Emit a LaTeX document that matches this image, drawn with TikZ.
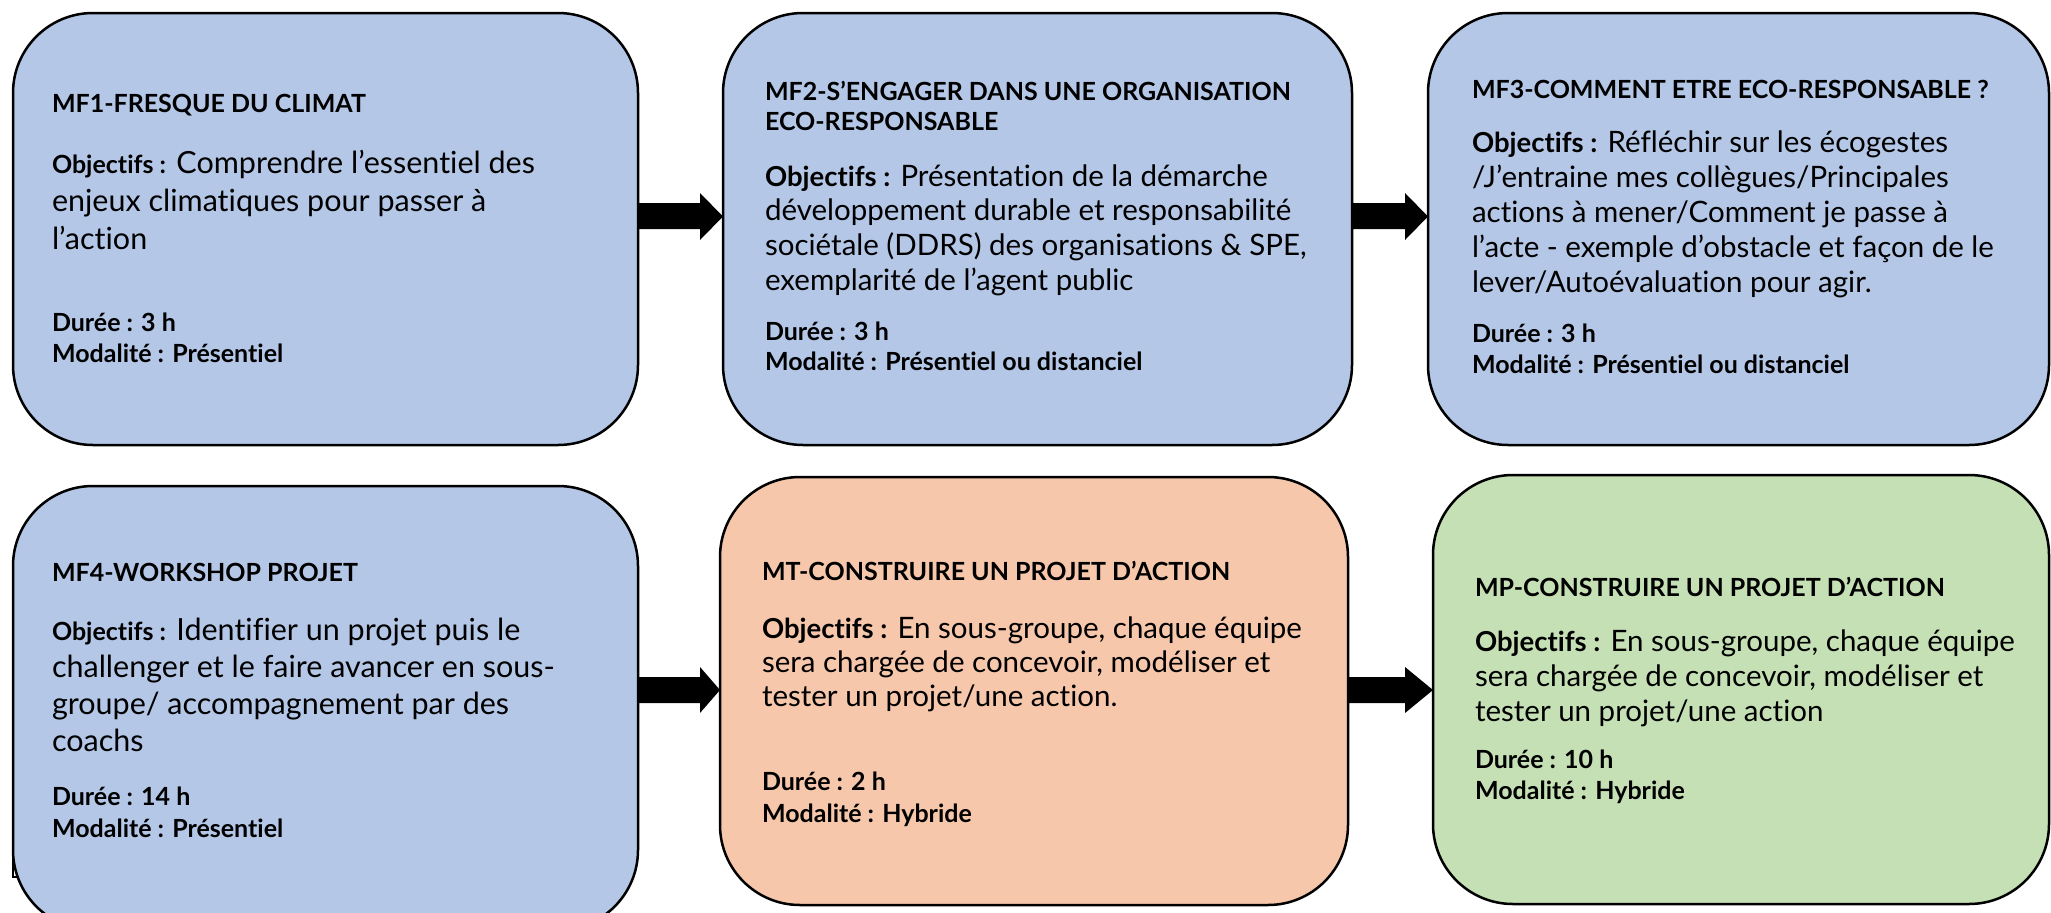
\documentclass[tikz,border=0pt]{standalone}
\usepackage{fontspec}
\setmainfont{Lato}[Ligatures={NoCommon}]
\definecolor{boxblue}{HTML}{B4C7E7}
\definecolor{boxorange}{HTML}{F6C7AB}
\definecolor{boxgreen}{HTML}{C5E0B4}
\newcommand\fTitle{\fontsize{25}{30}\selectfont\bfseries}
\newcommand\fBody{\fontsize{29.5}{35}\selectfont}
\newcommand\fBodyL{\fontsize{30.5}{37}\selectfont}
\newcommand\fLabel{\fontsize{25}{30}\selectfont\bfseries}
\newcommand\fObj{\fontsize{27.5}{33}\selectfont\bfseries}
\newcommand\tline[4]{\node[txt] (#1) at (#2,#3) {#4};}
\begin{document}
\begin{tikzpicture}[x=1pt,y=-1pt,
  card/.style={draw=black, line width=2.5pt, rounded corners=80pt, anchor=north west, inner sep=0pt, outer sep=0pt},
  txt/.style={anchor=base west, inner sep=0pt, outer sep=0pt, text=black},
  blockarrow/.style={fill=black},
  remnant/.style={draw=black, line width=1.5pt}]
\useasboundingbox (0,0) rectangle (2051,913);
% cards
\node[card, fill=boxblue, minimum width=625pt, minimum height=432pt] (b1) at (13,13) {};
\node[card, fill=boxblue, minimum width=629pt, minimum height=432pt] (b2) at (723,13) {};
\node[card, fill=boxblue, minimum width=621pt, minimum height=432pt] (b3) at (1428,13) {};
\node[card, fill=boxblue, minimum width=625pt, minimum height=444pt] (b4) at (13,486) {};
\node[card, fill=boxorange, minimum width=628pt, minimum height=428pt] (b5) at (720,477) {};
\node[card, fill=boxgreen, minimum width=616pt, minimum height=429pt] (b6) at (1433,475) {};
% small remnant mark at lower left of b4
\draw[remnant] (b4.west |- 0,845) -- (13,877) -- (19,877);
% arrows
\fill[blockarrow] (b1.east |- 0,203) -- (700,203) -- (700,193) -- (b2.west |- 0,216.5) -- (700,240) -- (700,229) -- (b1.east |- 0,229) -- cycle;
\fill[blockarrow] (b2.east |- 0,203) -- (1405,203) -- (1405,193) -- (b3.west |- 0,216.5) -- (1405,240) -- (1405,229) -- (b2.east |- 0,229) -- cycle;
\fill[blockarrow] (b4.east |- 0,677) -- (700,677) -- (700,667) -- (b5.west |- 0,690) -- (700,713) -- (700,703) -- (b4.east |- 0,703) -- cycle;
\fill[blockarrow] (b5.east |- 0,677) -- (1405,677) -- (1405,667) -- (b6.west |- 0,690) -- (1405,713) -- (1405,703) -- (b5.east |- 0,703) -- cycle;
% box 1
\tline{t1a}{52}{112}{\fTitle MF1-FRESQUE DU CLIMAT}
\tline{t1b}{52}{173}{\fBodyL{\fLabel Objectifs :} Comprendre l’essentiel des}
\tline{t1c}{52}{211}{\fBodyL enjeux climatiques pour passer à}
\tline{t1d}{52}{249}{\fBodyL l’action}
\tline{t1e}{52}{331}{\fLabel Durée : 3 h}
\tline{t1f}{52}{362}{\fLabel Modalité : Présentiel}
% box 2
\tline{t2a}{765}{100}{\fTitle MF2-S’ENGAGER DANS UNE ORGANISATION}
\tline{t2b}{765}{130}{\fTitle ECO-RESPONSABLE}
\tline{t2c}{765}{186}{\fBody{\fObj Objectifs :} Présentation de la démarche}
\tline{t2d}{765}{220}{\fBody développement durable et responsabilité}
\tline{t2e}{765}{255}{\fBody sociétale (DDRS) des organisations \& SPE,}
\tline{t2f}{765}{290}{\fBody exemplarité de l’agent public}
\tline{t2g}{765}{340}{\fLabel Durée : 3 h}
\tline{t2h}{765}{370}{\fLabel Modalité : Présentiel ou distanciel}
% box 3
\tline{t3a}{1472}{98}{\fTitle MF3-COMMENT ETRE ECO-RESPONSABLE ?}
\tline{t3b}{1472}{152}{\fBody{\fObj Objectifs :} Réfléchir sur les écogestes}
\tline{t3c}{1472}{187}{\fBody /J’entraine mes collègues/Principales}
\tline{t3d}{1472}{222}{\fBody actions à mener/Comment je passe à}
\tline{t3e}{1472}{257}{\fBody l’acte - exemple d’obstacle et façon de le}
\tline{t3f}{1472}{292}{\fBody lever/Autoévaluation pour agir.}
\tline{t3g}{1472}{342}{\fLabel Durée : 3 h}
\tline{t3h}{1472}{373}{\fLabel Modalité : Présentiel ou distanciel}
% box 4
\tline{t4a}{52}{581}{\fTitle MF4-WORKSHOP PROJET}
\tline{t4b}{52}{640}{\fBodyL{\fLabel Objectifs :} Identifier un projet puis le}
\tline{t4c}{52}{677}{\fBodyL challenger et le faire avancer en sous-}
\tline{t4d}{52}{714}{\fBodyL groupe/ accompagnement par des}
\tline{t4e}{52}{751}{\fBodyL coachs}
\tline{t4f}{52}{805}{\fLabel Durée : 14 h}
\tline{t4g}{52}{837}{\fLabel Modalité : Présentiel}
% box 5
\tline{t5a}{762}{580}{\fTitle MT-CONSTRUIRE UN PROJET D’ACTION}
\tline{t5b}{762}{638}{\fBody{\fObj Objectifs :} En sous-groupe, chaque équipe}
\tline{t5c}{762}{672}{\fBody sera chargée de concevoir, modéliser et}
\tline{t5d}{762}{706}{\fBody tester un projet/une action.}
\tline{t5e}{762}{790}{\fLabel Durée : 2 h}
\tline{t5f}{762}{822}{\fLabel Modalité : Hybride}
% box 6
\tline{t6a}{1475}{596}{\fTitle MP-CONSTRUIRE UN PROJET D’ACTION}
\tline{t6b}{1475}{651}{\fBody{\fObj Objectifs :} En sous-groupe, chaque équipe}
\tline{t6c}{1475}{686}{\fBody sera chargée de concevoir, modéliser et}
\tline{t6d}{1475}{721}{\fBody tester un projet/une action}
\tline{t6e}{1475}{768}{\fLabel Durée : 10 h}
\tline{t6f}{1475}{799}{\fLabel Modalité : Hybride}
\end{tikzpicture}
\end{document}
